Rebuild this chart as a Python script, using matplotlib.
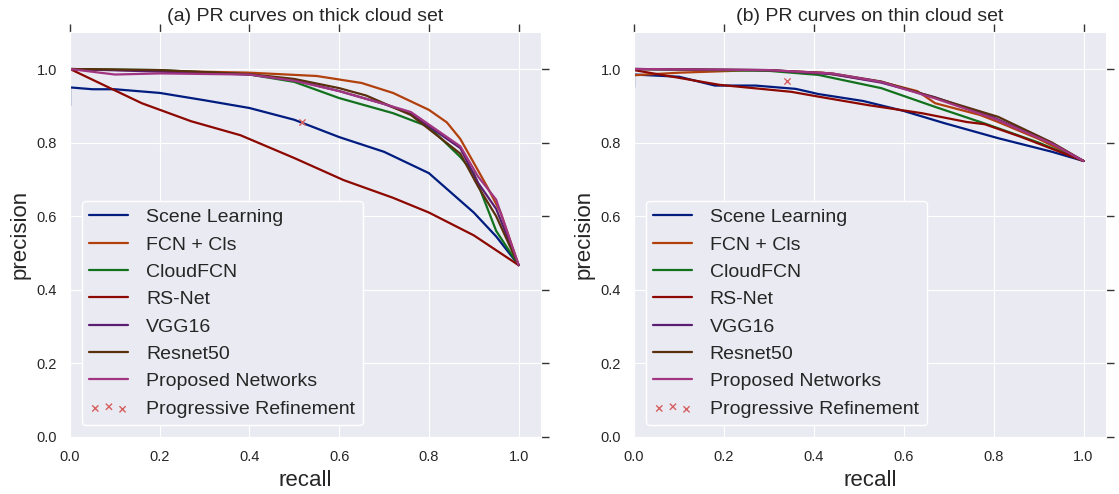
import matplotlib
matplotlib.use('Agg')
import matplotlib.pyplot as plt
import seaborn as sns

sns.set_style('darkgrid')
plt.rcParams['font.family'] = ['Liberation Sans', 'DejaVu Sans']

labels = ['Scene Learning', 'FCN + Cls', 'CloudFCN', 'RS-Net', 'VGG16', 'Resnet50', 'Proposed Networks']
colors = sns.color_palette('dark', 7)

# (a) thick cloud set
thick = {
    'Scene Learning': ([0.0, 0.0, 0.05, 0.1, 0.2, 0.3, 0.4, 0.5, 0.6, 0.7, 0.8, 0.9, 0.95, 1.0],
                       [0.90, 0.95, 0.945, 0.945, 0.935, 0.915, 0.894, 0.862, 0.815, 0.775, 0.717, 0.61, 0.545, 0.467]),
    'FCN + Cls': ([0.0, 0.2, 0.4, 0.55, 0.65, 0.72, 0.8, 0.84, 0.87, 0.9, 0.93, 0.96, 1.0],
                  [1.0, 0.995, 0.99, 0.981, 0.962, 0.935, 0.889, 0.855, 0.81, 0.745, 0.68, 0.61, 0.467]),
    'CloudFCN': ([0.0, 0.2, 0.4, 0.5, 0.6, 0.72, 0.8, 0.87, 0.9, 0.95, 1.0],
                 [1.0, 0.997, 0.985, 0.965, 0.921, 0.88, 0.843, 0.761, 0.717, 0.56, 0.467]),
    'RS-Net': ([0.0, 0.16, 0.27, 0.38, 0.5, 0.61, 0.72, 0.8, 0.9, 1.0],
               [1.0, 0.907, 0.858, 0.82, 0.758, 0.698, 0.65, 0.61, 0.548, 0.467]),
    'VGG16': ([0.0, 0.2, 0.4, 0.5, 0.6, 0.7, 0.76, 0.87, 0.91, 0.95, 1.0],
              [1.0, 0.993, 0.985, 0.97, 0.94, 0.905, 0.878, 0.785, 0.69, 0.62, 0.467]),
    'Resnet50': ([0.0, 0.2, 0.4, 0.5, 0.6, 0.66, 0.76, 0.87, 0.91, 0.95, 1.0],
                 [1.0, 0.997, 0.986, 0.973, 0.948, 0.928, 0.875, 0.77, 0.68, 0.6, 0.467]),
    'Proposed Networks': ([0.0, 0.1, 0.2, 0.4, 0.5, 0.6, 0.7, 0.76, 0.87, 0.91, 0.95, 1.0],
                          [1.0, 0.985, 0.988, 0.985, 0.968, 0.94, 0.905, 0.883, 0.79, 0.707, 0.645, 0.467]),
}
thick_pr = ([0.517], [0.855])

# (b) thin cloud set
thin = {
    'Scene Learning': ([0.0, 0.0, 0.1, 0.18, 0.27, 0.36, 0.41, 0.51, 0.6, 0.69, 0.81, 0.93, 1.0],
                       [0.95, 0.985, 0.979, 0.955, 0.955, 0.946, 0.932, 0.913, 0.886, 0.853, 0.812, 0.775, 0.75]),
    'FCN + Cls': ([0.0, 0.1, 0.27, 0.42, 0.55, 0.63, 0.67, 0.77, 0.81, 0.9, 1.0],
                  [0.983, 0.99, 0.997, 0.99, 0.965, 0.94, 0.907, 0.875, 0.856, 0.81, 0.75]),
    'CloudFCN': ([0.0, 0.3, 0.41, 0.55, 0.67, 0.78, 0.9, 1.0],
                 [1.0, 0.995, 0.984, 0.948, 0.897, 0.852, 0.80, 0.75]),
    'RS-Net': ([0.0, 0.1, 0.19, 0.35, 0.41, 0.52, 0.64, 0.74, 0.78, 0.86, 1.0],
               [0.997, 0.976, 0.957, 0.938, 0.925, 0.902, 0.88, 0.856, 0.85, 0.816, 0.75]),
    'VGG16': ([0.0, 0.3, 0.44, 0.55, 0.67, 0.8, 0.93, 1.0],
              [1.0, 0.997, 0.986, 0.963, 0.923, 0.868, 0.798, 0.75]),
    'Resnet50': ([0.0, 0.3, 0.44, 0.55, 0.67, 0.81, 0.93, 1.0],
                 [1.0, 0.997, 0.988, 0.966, 0.922, 0.87, 0.80, 0.75]),
    'Proposed Networks': ([0.0, 0.3, 0.44, 0.55, 0.67, 0.8, 0.93, 1.0],
                          [1.0, 0.997, 0.988, 0.965, 0.92, 0.866, 0.797, 0.75]),
}
thin_pr = ([0.34], [0.967])

titles = ['(a) PR curves on thick cloud set', '(b) PR curves on thin cloud set']

fig = plt.figure(figsize=(11.19, 4.94), dpi=100)
ax1 = fig.add_axes([0.0626, 0.1154, 0.4209, 0.8194])
ax2 = fig.add_axes([0.5666, 0.1154, 0.4218, 0.8194])

for ax, data, pr, title in zip([ax1, ax2], [thick, thin], [thick_pr, thin_pr], titles):
    for lab, c in zip(labels, colors):
        x, y = data[lab]
        ax.plot(x, y, color=c, lw=1.6, label=lab)
    ax.scatter(pr[0], pr[1], marker='x', color='#d65f5f', s=20, lw=1.0,
               label='Progressive Refinement', zorder=5)
    ax.set_xlim(0, 1.05)
    ax.set_ylim(0, 1.1)
    ax.set_xticks([0.0, 0.2, 0.4, 0.6, 0.8, 1.0])
    ax.set_yticks([0.0, 0.2, 0.4, 0.6, 0.8, 1.0])
    ax.tick_params(axis='both', which='major', direction='out', length=6, width=1,
                   color='#333333', top=True, right=True, labelsize=10.5, labelcolor='#262626')
    ax.set_xlabel('recall', fontsize=16, labelpad=4)
    ax.set_ylabel('precision', fontsize=16)
    ax.set_title(title, fontsize=14, pad=8)
    leg = ax.legend(loc='lower left', fontsize=14, frameon=True, facecolor='#eaeaf2',
                    edgecolor='white', framealpha=1, borderaxespad=0.6, scatterpoints=3,
                    handlelength=2.0, handletextpad=0.9, labelspacing=0.5)

fig.savefig('out.png', dpi=100)
